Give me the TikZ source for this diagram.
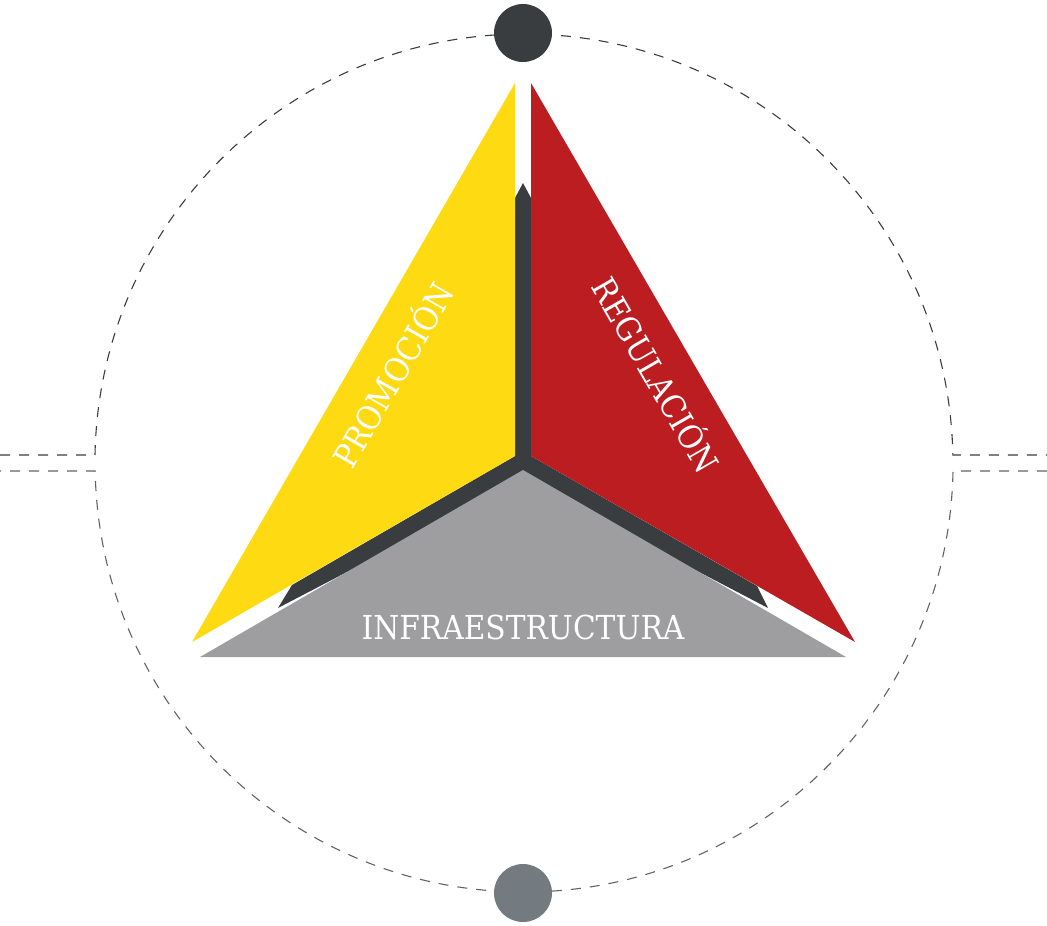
\documentclass[tikz,border=0pt]{standalone}
\usepackage{fontspec}
\setmainfont{DejaVu Serif}
\usepackage{tikz}
\usetikzlibrary{calc}
\definecolor{promo}{HTML}{FDDA12}
\definecolor{regul}{HTML}{BB1D20}
\definecolor{infra}{HTML}{9E9DA0}
\definecolor{band}{HTML}{3A3D40}
\definecolor{lowdot}{HTML}{737A80}

\begin{document}
\begin{tikzpicture}[x=1pt,y=-1pt,
    guide line/.style={dashed,dash pattern=on 10pt off 9pt,line width=1.1pt},
    side text/.style={text=white,inner sep=0pt,font=\fontsize{33}{33}\selectfont}]
\useasboundingbox (0,0) rectangle (1047,926);
\coordinate (centre) at (524,463);
\draw[guide line,band] (0,455) -- (95,455) arc[start angle=181.07,end angle=358.93,radius=429] -- (1047,455); % upper half
\draw[guide line,band!80] (1047,471) -- (953,471) arc[start angle=1.07,end angle=178.93,radius=429] -- (0,471); % lower half
\fill[band] (523,183) -- (531,198) -- (531,456) -- (757,586) -- (768,608) -- (523,480) -- (278,608) -- (292,585) -- (515,456) -- (515,198) -- cycle; % the Y
\fill[infra] (523,470) -- (846,657) -- (200,657) -- cycle; % base
\fill[promo] (515,83) -- (515,456) -- (192,642) -- cycle; % left
\fill[regul] (531,83) -- (855,642) -- (531,456) -- cycle; % right
\fill[band] (523,33) circle[radius=29]; % top dot
\fill[lowdot] (523,893) circle[radius=29]; % bottom dot
\node[side text] (infratext) at (523,627) {\scalebox{0.9}[1]{INFRAESTRUCTURA}};
\node[side text,rotate=60] (promotext) at (391,374) {\scalebox{0.9}[1]{PROMOCIÓN}};
\node[side text,rotate=-60] (regultext) at (658,374) {\scalebox{0.9}[1]{REGULACIÓN}};
\end{tikzpicture}
\end{document}
